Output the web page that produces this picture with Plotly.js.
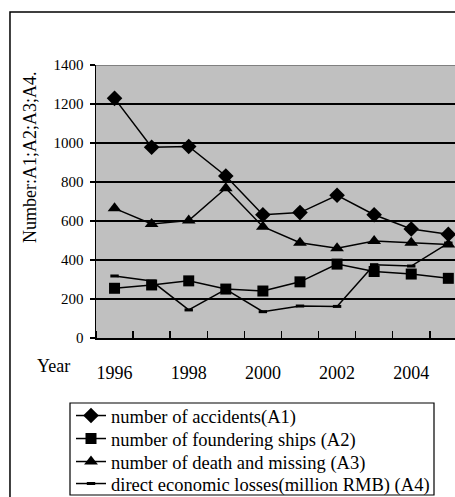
<!DOCTYPE html>
<html>
<head>
<meta charset="utf-8">
<script src="https://cdn.plot.ly/plotly-3.0.1.min.js"></script>
<style>
html,body{margin:0;padding:0;overflow:hidden;background:#fff;}
#chart{width:455px;height:497px;}
</style>
</head>
<body>
<div id="chart"></div>
<script>
var years = [1996, 1997, 1998, 1999, 2000, 2001, 2002, 2003, 2004, 2005];
var tickYears = [1996, 1998, 2000, 2002, 2004];
var accidentsA1 = [1229, 978, 982, 831, 632, 643, 732, 632, 559, 532];
var founderingA2 = [255, 272, 293, 251, 241, 288, 379, 341, 328, 306];
var deathMissingA3 = [665, 585, 602, 768, 571, 489, 460, 497, 489, 480];
var lossesA4 = [318, 292, 144, 250, 135, 164, 162, 376, 369, 487];
var names = [
  "number of accidents(A1)",
  "number of foundering ships (A2)",
  "number of death and missing (A3)",
  "direct economic losses(million RMB) (A4)"
];

var serif = "Liberation Serif, serif";
var lineStyle = {color: "#000", width: 1.5};

var traces = [
  {x: years, y: accidentsA1, name: names[0], legend: "legend", mode: "lines+markers", line: lineStyle,
   marker: {symbol: "diamond", size: 12, color: "#000"}},
  {x: years, y: founderingA2, name: names[1], legend: "legend2", mode: "lines+markers", line: lineStyle,
   marker: {symbol: "square", size: 11, color: "#000"}},
  {x: years, y: deathMissingA3, name: names[2], legend: "legend3", mode: "lines+markers", line: lineStyle,
   marker: {symbol: "triangle-up", size: 12, color: "#000"}},
  {x: years, y: lossesA4, name: names[3], legend: "legend4", mode: "lines+markers", line: lineStyle,
   marker: {symbol: "line-ew-open", size: 6, color: "#000", line: {color: "#000", width: 3}}}
];

function legendAt(rowY) {
  return {
    xref: "container", yref: "container",
    x: 71 / 455, y: 1 - rowY / 497, xanchor: "left", yanchor: "middle",
    bgcolor: "rgba(0,0,0,0)", borderwidth: 0,
    font: {family: serif, size: 18.5, color: "#000"},
    itemwidth: 30
  };
}

var layout = {
  width: 455, height: 497,
  margin: {l: 96, r: 0, t: 65, b: 159, pad: 0, autoexpand: false},
  paper_bgcolor: "#fff",
  plot_bgcolor: "#c0c0c0",
  showlegend: true,
  font: {family: serif, color: "#000"},
  xaxis: {
    range: [1995.5, 2005.18],
    tickmode: "array", tickvals: tickYears, ticktext: tickYears.map(String),
    ticks: "", showgrid: false, zeroline: false,
    showline: true, linecolor: "#000", linewidth: 1.5,
    tickfont: {family: serif, size: 18, color: "#000"},
    ticklabelstandoff: 18,
    automargin: false,
    minor: {tick0: 1995.5, dtick: 1, ticks: "inside", ticklen: 7, tickcolor: "#000", tickwidth: 1.5, showgrid: false}
  },
  yaxis: {
    range: [0, 1400], dtick: 200, tick0: 0,
    showgrid: true, gridcolor: "#000", gridwidth: 1.5,
    zeroline: false, showline: true, linecolor: "#000", linewidth: 1.5,
    ticks: "outside", ticklen: 5, tickcolor: "#000", tickwidth: 1.5,
    tickfont: {family: serif, size: 15, color: "#000"},
    ticklabelstandoff: 3,
    automargin: false
  },
  legend: legendAt(416),
  legend2: legendAt(439),
  legend3: legendAt(462),
  legend4: legendAt(484),
  shapes: [
    {type: "rect", xref: "paper", yref: "paper", x0: -0.2396, x1: 1.2, y0: -0.8, y1: 1.194,
     line: {color: "#000", width: 1.5}, fillcolor: "rgba(0,0,0,0)", layer: "below"},
    {type: "rect", xref: "paper", yref: "paper",
     x0: (70 - 96) / 359, x1: (434 - 96) / 359, y0: (338 - 495) / 273, y1: (338 - 403) / 273,
     line: {color: "#000", width: 1.2}, fillcolor: "#fff", layer: "below"},
    {type: "line", xref: "paper", yref: "y", x0: 0, x1: 1, y0: 1400, y1: 1400,
     line: {color: "#808080", width: 2}, layer: "above"}
  ],
  annotations: [
    {text: "Year", xref: "paper", yref: "paper", x: (53 - 96) / 359, y: (338 - 366) / 273,
     xanchor: "center", yanchor: "middle", showarrow: false,
     font: {family: serif, size: 18, color: "#000"}},
    {text: "Number:A1;A2;A3;A4.", xref: "paper", yref: "paper", x: (30 - 96) / 359, y: (338 - 158) / 273,
     xanchor: "center", yanchor: "middle", textangle: -90, showarrow: false,
     font: {family: serif, size: 18, color: "#000"}}
  ]
};

Plotly.newPlot("chart", traces, layout, {displayModeBar: false, staticPlot: true});
</script>
</body>
</html>
